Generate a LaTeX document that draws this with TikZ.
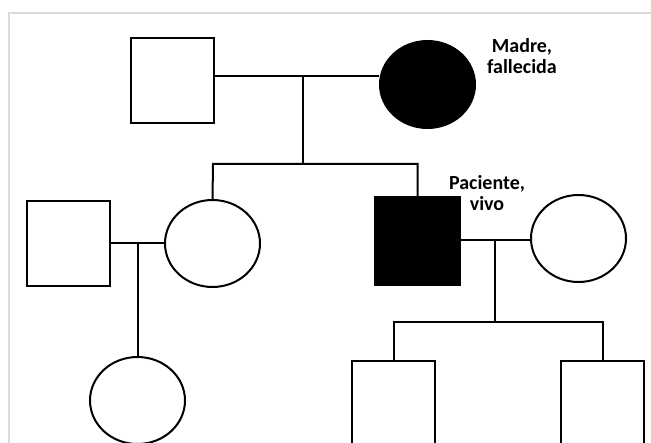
\documentclass[tikz,border=0pt]{standalone}
\usepackage{fontspec}
\setmainfont{Carlito}
\usetikzlibrary{shapes.geometric}
\tikzset{
  person/.style={draw=black, line width=2pt, inner sep=0pt},
  male/.style={person, rectangle, minimum width=83pt, minimum height=85pt, fill=white},
  female/.style={person, ellipse, minimum width=95pt, minimum height=87pt, fill=white},
  affected/.style={fill=black},
  link/.style={draw=black, line width=2pt},
  lbl/.style={font=\bfseries\fontsize{20}{21}\selectfont, align=center, inner sep=0pt},
  frame/.style={draw=black!14, line width=1.3pt}
}
\begin{document}
\begin{tikzpicture}[x=1pt,y=-1pt]
\clip (0,0) rectangle (651,443);
\fill[white] (0,0) rectangle (651,443);
\draw[frame] (9,470) -- (9,13) -- (680,13);

% generation I
\node[male] (father) at (172.5,80.5) {};
\node[female, affected] (mother) at (427.5,84.5) {};
\coordinate (m1) at (303,76);
\coordinate (s1) at (213,164);
\coordinate (s2) at (417.5,164);

% generation II
\node[male] (husband) at (68,243.5) {};
\node[female] (daughter) at (212.5,243.5) {};
\node[male, affected, minimum width=85pt, minimum height=88pt] (patient) at (417.5,241) {};
\node[female] (wife) at (578.5,238.5) {};
\coordinate (m2) at (137.5,243);
\coordinate (m3) at (495,240);

% generation III
\node[female] (gdaughter) at (137.5,400.5) {};
\coordinate (c1) at (393.5,322);
\coordinate (c2) at (602.5,322);
\node[male] (son1) at (393.5,403.5) {};
\node[male] (son2) at (602.5,403.5) {};

% connectors
\draw[link] (father.east |- m1) -- (m1 -| mother.west);
\draw[link] (m1) -- (m1 |- s1);
\draw[link] (daughter.north) -- (s1) -- (s2) -- (patient.north);
\draw[link] (husband.east |- m2) -- (m2 -| daughter.west);
\draw[link] (m2) -- (gdaughter.north);
\draw[link] (patient.east |- m3) -- (m3 -| wife.west);
\draw[link] (m3) -- (m3 |- c1);
\draw[link] (son1.north) -- (c1) -- (c2) -- (son2.north);

% labels
\node[lbl] (lmadre) at (522,56) {Madre,\\fallecida};
\node[lbl] (lpaciente) at (487,193) {Paciente,\\vivo};
\end{tikzpicture}
\end{document}
